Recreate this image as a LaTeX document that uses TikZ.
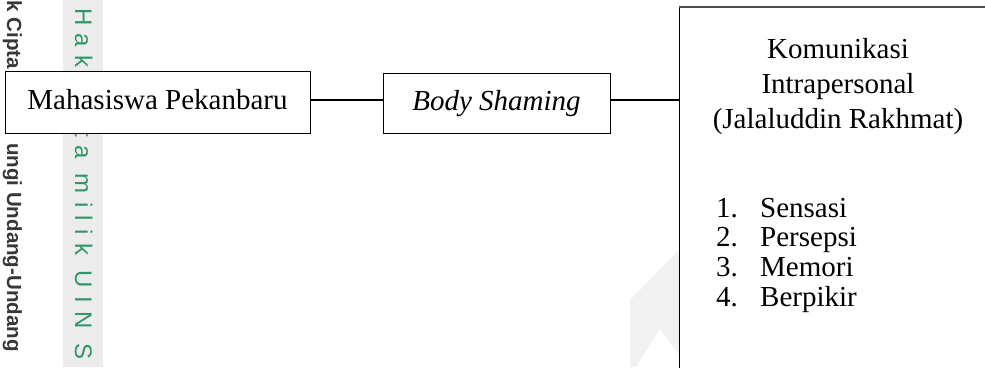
\documentclass[tikz,border=0pt]{standalone}
\usepackage{fontspec}
\setmainfont{Liberation Serif}
\newfontfamily\wmsans[LetterSpace=35]{Liberation Sans}
\newfontfamily\wmbold{Liberation Sans}
\definecolor{wmgreen}{RGB}{50,150,100}
\definecolor{wmdark}{RGB}{55,55,55}
\definecolor{wmstrip}{RGB}{236,236,236}
\definecolor{logogray}{RGB}{241,241,241}
\begin{document}
\begin{tikzpicture}[x=1pt,y=-1pt,
  box/.style={draw=black, line width=1pt, fill=white, inner sep=0pt,
    font=\fontsize{29}{30}\selectfont, text height=20pt, text depth=6pt},
  link/.style={line width=1.5pt},
  txt/.style={font=\fontsize{29}{30}\selectfont, inner sep=0pt, anchor=base},
  itm/.style={txt, anchor=base west},
  wmg/.style={rotate=-90, anchor=base west, inner sep=0pt, text=wmgreen,
    font=\wmsans\fontsize{24}{24}\selectfont},
  wmd/.style={rotate=-90, anchor=base west, inner sep=0pt, text=wmdark,
    font=\wmbold\bfseries\fontsize{20.5}{21}\selectfont},
]
\useasboundingbox (0,0) rectangle (985,367);
\begin{scope}
\clip (0,0) rectangle (985,367);
% watermark
\fill[wmstrip] (63,0) rectangle (103,367);
\node[wmg] (wg1) at (75,8) {Hak};
\node[wmg] (wg2) at (75,130) {ta milik UIN S};
\node[wmd] (wd1) at (7,0.5) {k Cipta};
\node[wmd] (wd2) at (7,143) {ungi Undang-Undang};
% faint logo
\fill[logogray] (679,250) -- (679,367) -- (630,367) -- (630,300) -- cycle;
\fill[white] (660,329) -- (688,367) -- (636,367) -- cycle;
% boxes
\node[box, minimum width=305pt, minimum height=62pt] (b1) at (157.5,102) {Mahasiswa Pekanbaru};
\node[box, minimum width=227pt, minimum height=60pt] (b2) at (496.5,103) {\itshape Body Shaming};
\node[box, minimum width=311pt, minimum height=365pt] (b3) at (834.5,189.5) {};
\draw[line width=2pt, black!70] (b3.north west) -- (b3.north east);
% connectors
\draw[link] (b1.east |- 0,100) -- (b2.west |- 0,100);
\draw[link] (b2.east |- 0,100) -- (b3.west |- 0,100);
% texts in the large box
\node[txt] (h1) at (838,58) {Komunikasi};
\node[txt] (h2) at (838,93) {Intrapersonal};
\node[txt] (h3) at (838,128) {(Jalaluddin Rakhmat)};
\node[itm] (l1) at (716,217) {\makebox[44pt][l]{1.}Sensasi};
\node[itm] (l2) at (716,246.7) {\makebox[44pt][l]{2.}Persepsi};
\node[itm] (l3) at (716,276.4) {\makebox[44pt][l]{3.}Memori};
\node[itm] (l4) at (716,306.1) {\makebox[44pt][l]{4.}Berpikir};
\end{scope}
\end{tikzpicture}
\end{document}
